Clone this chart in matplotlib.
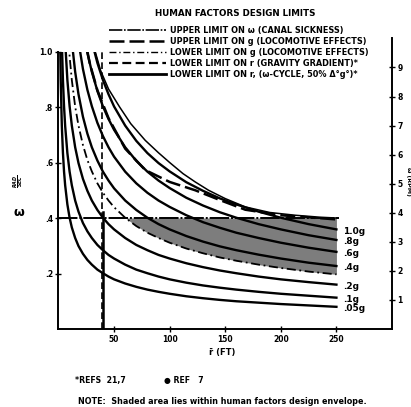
#human factors design limits for a rotating station: omega vs radius

import numpy as np
import matplotlib
matplotlib.use("Agg")
import matplotlib.pyplot as plt

# radius (ft) shared by the g-level curves; each curve uses the tail of it
r_grid = [1, 1.5, 2, 3, 4, 5, 6, 8, 10, 12, 15, 18, 22, 26, 30, 35, 40, 45,
          50, 60, 70, 80, 90, 100, 115, 130, 145, 160, 180, 200, 225, 250]

# angular velocity (rad/sec) for each g level
w_100g = [1.113, 1.036, .959, .897, .846, .802, .733, .678, .634, .598, .568,
          .529, .498, .471, .449, .423, .401, .378, .359]
w_080g = [1.082, .995, .927, .858, .802, .757, .718, .655, .606, .567, .535,
          .508, .473, .445, .421, .401, .378, .359, .338, .321]
w_060g = [1.135, 1.036, .937, .862, .803, .743, .695, .655, .621, .567, .525,
          .491, .463, .440, .410, .385, .365, .347, .328, .311, .293, .278]
w_040g = [1.135, 1.036, .927, .846, .765, .704, .655, .607, .567, .535, .507,
          .463, .429, .401, .378, .359, .335, .315, .298, .284, .268, .254,
          .239, .227]
w_030g = [1.099, .983, .897, .802, .733, .663, .609, .568, .525, .491, .463,
          .439, .401, .371, .347, .328, .311, .290, .273, .258, .246, .232,
          .220, .207, .197]
w_020g = [1.135, 1.036, .897, .803, .733, .655, .598, .541, .498, .463, .429,
          .401, .378, .359, .328, .303, .284, .267, .254, .237, .223, .211,
          .201, .189, .179, .169, .160]
w_010g = [1.269, 1.036, .897, .802, .732, .634, .567, .518, .463, .423, .382,
          .352, .328, .303, .284, .267, .254, .232, .214, .201, .189, .179,
          .167, .157, .149, .142, .134, .127, .120, .113]
w_005g = [1.269, 1.036, .897, .733, .635, .567, .518, .449, .401, .366, .328,
          .299, .271, .249, .232, .214, .201, .189, .179, .164, .152, .142,
          .134, .127, .118, .111, .105, .100, .095, .090, .085, .080]

# the two flatter curves at the top of the chart
r_top = [30, 33, 38, 45, 55, 65, 78, 90, 100, 112, 123, 135, 150, 168, 190,
         213, 235, 250]
w_top = [1.10, 1.0, .93, .865, .80, .74, .68, .635, .60, .56, .53, .50, .47,
         .44, .42, .41, .403, .40]
r_upper_g = [22, 28, 35, 45, 60, 78, 100, 123, 145, 168, 200, 250]
w_upper_g = [1.08, .96, .86, .76, .65, .573, .53, .50, .465, .43, .41, .395]

g_labels = ["1.0g", ".8g", ".6g", ".4g", ".2g", ".1g", ".05g"]

# limits
w_canal = 0.4      # upper limit on omega
r_gradient = 39    # lower limit on r (gravity gradient)
r_cycle = 40       # lower limit on r (omega-cycle)

rpm_ticks = [1, 2, 3, 4, 5, 6, 7, 8, 9]
w_ticks = [.2, .4, .6, .8, 1.0]
w_ticklabels = [".2", ".4", ".6", ".8", "1.0"]
r_ticks = [50, 100, 150, 200, 250]

legend_labels = ["UPPER LIMIT ON \u03c9 (CANAL SICKNESS)",
                 "UPPER LIMIT ON g (LOCOMOTIVE EFFECTS)",
                 "LOWER LIMIT ON g (LOCOMOTIVE EFFECTS)",
                 "LOWER LIMIT ON r (GRAVITY GRADIENT)*",
                 "LOWER LIMIT ON r, (\u03c9-CYCLE, 50% \u0394\u00b0g\u00b0)*"]

plt.rcParams["font.family"] = ["DejaVu Sans"]
plt.rcParams["font.weight"] = "bold"

def tail(w):
    return r_grid[len(r_grid) - len(w):]

fig = plt.figure(figsize=(4.11, 4.07), dpi=100)
#main axis: omega 0..1.0, the rpm axis on the right runs a bit higher
ax = fig.add_axes([0.1423, 0.1916, 0.8115, 0.6818])
ax.set_xlim(0, 300)
ax.set_ylim(0, 1.0)

#shaded design envelope
r_sh = np.array(tail(w_030g))
w_sh = np.array(w_030g)
ax.fill_between(r_sh, w_sh, w_canal, where=w_sh <= w_canal + 0.002,
                color="#7d7d7d", lw=0, zorder=1)

#g level curves
k = "black"
ax.plot(r_top, w_top, color=k, lw=1.1)
ax.plot(r_upper_g, w_upper_g, color=k, lw=1.8, ls=(0, (6, 2)))
for ww in [w_100g, w_080g, w_060g, w_040g, w_020g, w_010g, w_005g]:
    ax.plot(tail(ww), ww, color=k, lw=1.7)
ax.plot(tail(w_030g), w_030g, color=k, lw=1.3, ls=(0, (5, 2, 1, 2)))

#limit lines
ax.plot([0, 252], [w_canal, w_canal], color=k, lw=1.4, ls=(0, (10, 1, 1, 1)))
ax.plot([r_gradient, r_gradient], [0, 1.0], color=k, lw=1.2, ls=(0, (4, 2)))
ax.plot([r_cycle, r_cycle], [0, 0.42], color=k, lw=1.8)

#labels at right end of curves
label_w = [w_100g[-1], w_080g[-1], w_060g[-1], w_040g[-1], w_020g[-1],
           w_010g[-1], w_005g[-1]]
for lab, ww in zip(g_labels, label_w):
    ax.text(256, ww - 0.006, lab, fontsize=6.5, va="center", ha="left")

#axes styling
ax.spines["top"].set_visible(False)
ax.spines["right"].set_visible(False)
for s in ["left", "bottom"]:
    ax.spines[s].set_linewidth(1.4)
ax.set_xticks(r_ticks)
ax.set_xticklabels([str(t) for t in r_ticks], fontsize=5.5)
ax.set_yticks(w_ticks)
ax.set_yticklabels(w_ticklabels, fontsize=5.5)
ax.tick_params(direction="inout", length=5, width=1, pad=1.5)

ax2 = fig.add_axes([0.1423, 0.1916, 0.8115, 0.716])
ax2.patch.set_visible(False)
ax2.set_ylim(0, 1.05 * 60 / (2 * np.pi))
ax2.set_xticks([])
ax2.yaxis.tick_right()
ax2.set_yticks(rpm_ticks)
ax2.set_yticklabels([str(t) for t in rpm_ticks], fontsize=5.5)
ax2.tick_params(direction="inout", length=5, width=1, pad=1.5)
for s in ["top", "left", "bottom"]:
    ax2.spines[s].set_visible(False)
ax2.spines["right"].set_linewidth(1.4)

#legend built from the plotted line styles
h = [plt.Line2D([], [], color=k, lw=1.2, ls=(0, (8, 1, 1, 1))),
     plt.Line2D([], [], color=k, lw=1.8, ls=(0, (6, 2))),
     plt.Line2D([], [], color=k, lw=1.0, ls=(0, (5, 2, 1, 2))),
     plt.Line2D([], [], color=k, lw=1.6, ls=(0, (4, 2))),
     plt.Line2D([], [], color=k, lw=2.0)]
fig.legend(h, legend_labels, loc="upper left", bbox_to_anchor=(0.265, 0.937),
           frameon=False, fontsize=5.9, handlelength=7.0, handletextpad=0.45,
           labelspacing=0.25, borderpad=0, borderaxespad=0)

#titles and notes
fig.text(0.572, 0.968, "HUMAN FACTORS DESIGN LIMITS", ha="center",
         va="center", fontsize=6.3)
fig.text(0.54, 0.133, "r\u0304 (FT)", ha="center", va="center", fontsize=6)
fig.text(0.045, 0.555, r"$\frac{RAD}{SEC}$", ha="center", va="center",
         fontsize=5, rotation=90)
fig.text(0.045, 0.477, "\u03c9", ha="center", va="center", fontsize=9)
fig.text(0.993, 0.555, "\u03c9 (RPM)", ha="center", va="center",
         fontsize=4.5, rotation=270)
fig.text(0.183, 0.064, "*REFS  21,7", ha="left", va="center", fontsize=5.6)
fig.text(0.40, 0.064, "\u25cf REF   7", ha="left", va="center", fontsize=5.6)
fig.text(0.19, 0.013, "NOTE:  Shaded area lies within human factors design envelope.",
         ha="left", va="center", fontsize=5.8)

fig.savefig("out.png", dpi=100)
